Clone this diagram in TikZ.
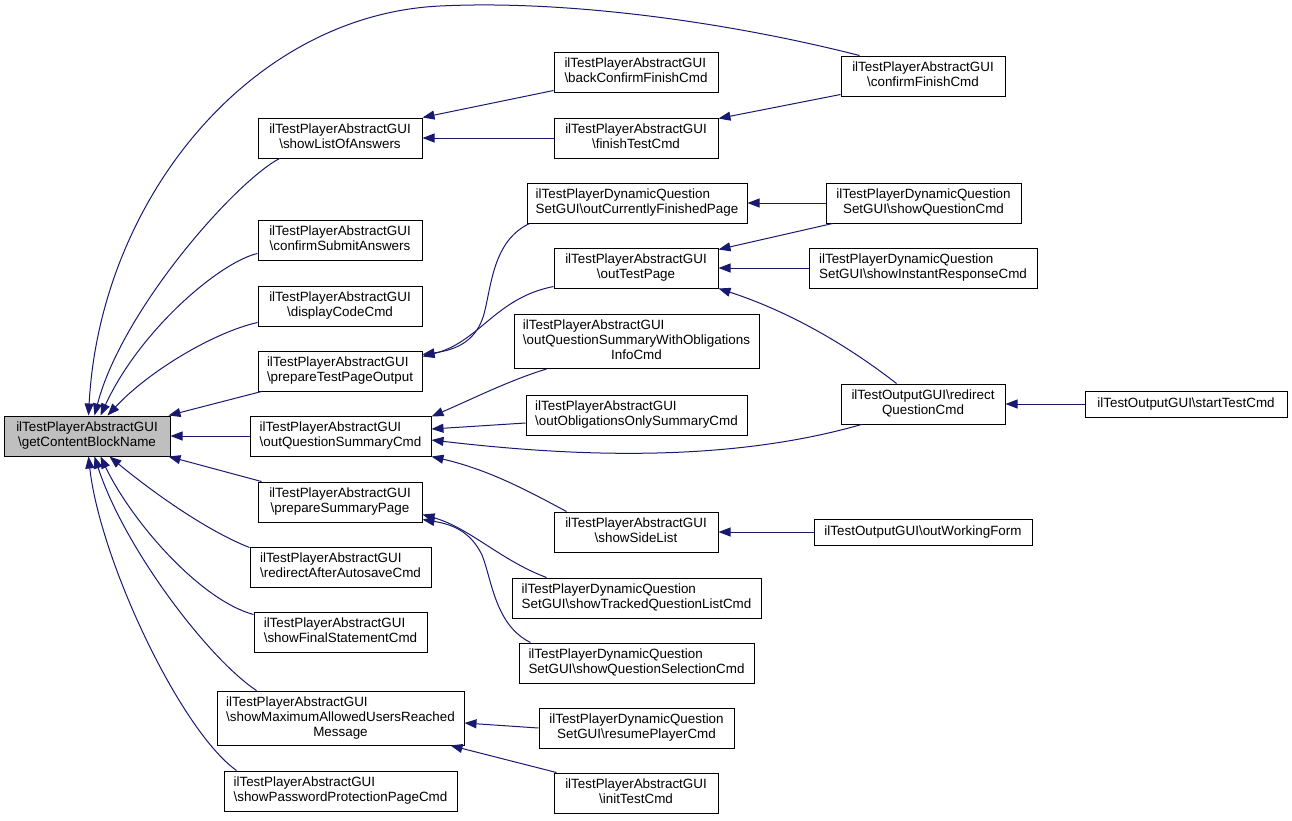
\documentclass[tikz,border=0pt]{standalone}
\usepackage{fontspec}
\setmainfont{Liberation Sans}
\usetikzlibrary{arrows.meta,calc}
\definecolor{edgeblue}{HTML}{191970}
\definecolor{rootgray}{HTML}{BFBFBF}
\newcommand{\twol}[2]{\begin{tabular}{@{}l@{}}#1\\\multicolumn{1}{@{}c@{}}{#2}\end{tabular}}
\newcommand{\threel}[3]{\begin{tabular}{@{}l@{}}#1\\#2\\\multicolumn{1}{@{}c@{}}{#3}\end{tabular}}
\newcommand{\bs}{\textbackslash}
\begin{document}
\begin{tikzpicture}[x=1pt,y=-1pt,
  box/.style={draw=black, line width=1pt, inner sep=0pt, fill=white, font=\fontsize{13.4}{15}\selectfont},
  edge/.style={draw=edgeblue, line width=1pt, -{Triangle[length=12pt,width=9pt]}}]
\useasboundingbox (0,0) rectangle (1292,820);
% column 1
\node[box, fill=rootgray, minimum width=166, minimum height=40] (root) at (87,436) {\twol{ilTestPlayerAbstractGUI}{\bs getContentBlockName}};
% column 2
\node[box, minimum width=164, minimum height=40] (sLOA) at (340,138) {\twol{ilTestPlayerAbstractGUI}{\bs showListOfAnswers}};
\node[box, minimum width=164, minimum height=40] (cSA) at (340,240) {\twol{ilTestPlayerAbstractGUI}{\bs confirmSubmitAnswers}};
\node[box, minimum width=164, minimum height=40] (dCC) at (340,306) {\twol{ilTestPlayerAbstractGUI}{\bs displayCodeCmd}};
\node[box, minimum width=164, minimum height=40] (pTPO) at (340,371) {\twol{ilTestPlayerAbstractGUI}{\bs prepareTestPageOutput}};
\node[box, minimum width=181, minimum height=40] (oQSC) at (340.5,436) {\twol{ilTestPlayerAbstractGUI}{\bs outQuestionSummaryCmd}};
\node[box, minimum width=164, minimum height=40] (pSP) at (340,502) {\twol{ilTestPlayerAbstractGUI}{\bs prepareSummaryPage}};
\node[box, minimum width=181, minimum height=40] (rAAC) at (340.5,567) {\twol{ilTestPlayerAbstractGUI}{\bs redirectAfterAutosaveCmd}};
\node[box, minimum width=173, minimum height=40] (sFSC) at (340.5,632) {\twol{ilTestPlayerAbstractGUI}{\bs showFinalStatementCmd}};
\node[box, minimum width=247, minimum height=54] (sMAU) at (340.5,718) {\threel{ilTestPlayerAbstractGUI}{\bs showMaximumAllowedUsersReached}{Message}};
\node[box, minimum width=233, minimum height=40] (sPPP) at (340.5,791) {\twol{ilTestPlayerAbstractGUI}{\bs showPasswordProtectionPageCmd}};
% column 3
\node[box, minimum width=164, minimum height=40] (bCFC) at (636,72) {\twol{ilTestPlayerAbstractGUI}{\bs backConfirmFinishCmd}};
\node[box, minimum width=164, minimum height=40] (fTC) at (636,138) {\twol{ilTestPlayerAbstractGUI}{\bs finishTestCmd}};
\node[box, minimum width=220, minimum height=40] (oCFP) at (637,203) {\twol{ilTestPlayerDynamicQuestion}{SetGUI\bs outCurrentlyFinishedPage}};
\node[box, minimum width=164, minimum height=40] (oTP) at (636,268) {\twol{ilTestPlayerAbstractGUI}{\bs outTestPage}};
\node[box, minimum width=245, minimum height=54] (oQSWO) at (636.5,341.5) {\threel{ilTestPlayerAbstractGUI}{\bs outQuestionSummaryWithObligations}{InfoCmd}};
\node[box, minimum width=221, minimum height=40] (oOOS) at (636.5,415) {\twol{ilTestPlayerAbstractGUI}{\bs outObligationsOnlySummaryCmd}};
\node[box, minimum width=164, minimum height=40] (sSL) at (636,532) {\twol{ilTestPlayerAbstractGUI}{\bs showSideList}};
\node[box, minimum width=249, minimum height=40] (sTQL) at (636.5,598) {\twol{ilTestPlayerDynamicQuestion}{SetGUI\bs showTrackedQuestionListCmd}};
\node[box, minimum width=235, minimum height=40] (sQSel) at (636.5,663) {\twol{ilTestPlayerDynamicQuestion}{SetGUI\bs showQuestionSelectionCmd}};
\node[box, minimum width=195, minimum height=40] (rPC) at (636.5,728) {\twol{ilTestPlayerDynamicQuestion}{SetGUI\bs resumePlayerCmd}};
\node[box, minimum width=164, minimum height=40] (iTC) at (636,793) {\twol{ilTestPlayerAbstractGUI}{\bs initTestCmd}};
% column 4
\node[box, minimum width=164, minimum height=40] (cFC) at (923,76) {\twol{ilTestPlayerAbstractGUI}{\bs confirmFinishCmd}};
\node[box, minimum width=195, minimum height=40] (sQC) at (923.5,203) {\twol{ilTestPlayerDynamicQuestion}{SetGUI\bs showQuestionCmd}};
\node[box, minimum width=228, minimum height=40] (sIRC) at (923,268) {\twol{ilTestPlayerDynamicQuestion}{SetGUI\bs showInstantResponseCmd}};
\node[box, minimum width=164, minimum height=40] (rQC) at (923,404) {\twol{ilTestOutputGUI\bs redirect}{QuestionCmd}};
\node[box, minimum width=218, minimum height=26] (oWF) at (923,532) {ilTestOutputGUI\bs outWorkingForm};
% column 5
\node[box, minimum width=202, minimum height=26] (sTC) at (1186,404) {ilTestOutputGUI\bs startTestCmd};

% edges into root
\draw[edge] ($(cFC.north west)+(19,0)$) .. controls (720,20) and (560,0) .. (440,6)
   .. controls (250,15) and (100,200) .. ($(root.north west)+(85,0)$);
\draw[edge] ($(sLOA.south west)+(22,0)$) .. controls (235,182) and (122,310) .. ($(root.north west)+(91,0)$);
\draw[edge] ($(cSA.south west)+(0,-7)$) .. controls (220,262) and (140,330) .. ($(root.north west)+(97,0)$);
\draw[edge] ($(dCC.south west)+(0,-4)$) .. controls (215,332) and (150,370) .. ($(root.north west)+(104,0)$);
\draw[edge] ($(pTPO.south west)+(4,0)$) -- ($(root.north east)+(-2,0)$);
\draw[edge] (oQSC.west) -- (root.east);
\draw[edge] ($(pSP.north west)+(4,0)$) -- ($(root.south east)+(-2,0)$);
\draw[edge] ($(rAAC.north west)+(0,1)$) .. controls (205,530) and (150,490) .. ($(root.south west)+(106,0)$);
\draw[edge] ($(sFSC.north west)+(0,3)$) .. controls (200,600) and (132,522) .. ($(root.south west)+(97,0)$);
\draw[edge] ($(sMAU.north west)+(40,0)$) .. controls (210,660) and (125,550) .. ($(root.south west)+(91,0)$);
\draw[edge] ($(sPPP.north west)+(13,0)$) .. controls (180,730) and (100,560) .. ($(root.south west)+(85,0)$);
% column 3 -> column 2
\draw[edge] ($(bCFC.south west)+(0,-2)$) -- (sLOA.north east);
\draw[edge] (fTC.west) -- (sLOA.east);
\draw[edge] ($(cFC.south west)+(0,-2)$) -- ($(fTC.north east)+(0,1)$);
\draw[edge] ($(oCFP.south west)+(3,0)$) .. controls (495,240) and (492,280) .. (485,310)
   .. controls (478,342) and (455,350) .. ($(pTPO.north east)+(0,4)$);
\draw[edge] ($(oTP.south west)+(0,-2)$) .. controls (495,298) and (480,342) .. ($(pTPO.north east)+(0,6)$);
\draw[edge] ($(oQSWO.south west)+(33,0)$) .. controls (510,380) and (470,400) .. ($(oQSC.north east)+(0,1)$);
\draw[edge] ($(oOOS.west)+(0,8)$) -- ($(oQSC.east)+(0,-7)$);
\draw[edge] ($(rQC.south west)+(21,0)$) .. controls (720,465) and (560,455) .. ($(oQSC.east)+(0,4)$);
\draw[edge] ($(sSL.north west)+(13,0)$) .. controls (530,492) and (490,470) .. (oQSC.south east);
\draw[edge] ($(sTQL.north west)+(35,0)$) .. controls (500,560) and (470,528) .. ($(pSP.south east)+(0,-8)$);
\draw[edge] ($(sQSel.north west)+(12,0)$) .. controls (495,625) and (492,580) .. (482,555)
   .. controls (470,530) and (450,524) .. ($(pSP.south east)+(0,-3)$);
\draw[edge] (rPC.west) -- ($(sMAU.east)+(0,5)$);
\draw[edge] ($(iTC.north west)+(3,0)$) -- ($(sMAU.south east)+(-14,0)$);
% column 4 -> column 3
\draw[edge] (sQC.west) -- (oCFP.east);
\draw[edge] ($(sQC.south west)+(7,0)$) -- ($(oTP.north east)+(0,2)$);
\draw[edge] (sIRC.west) -- (oTP.east);
\draw[edge] ($(rQC.north west)+(56,0)$) .. controls (860,355) and (800,315) .. (oTP.south east);
% column 5 / 4
\draw[edge] (sTC.west) -- (rQC.east);
\draw[edge] (oWF.west) -- (sSL.east);
\end{tikzpicture}
\end{document}
